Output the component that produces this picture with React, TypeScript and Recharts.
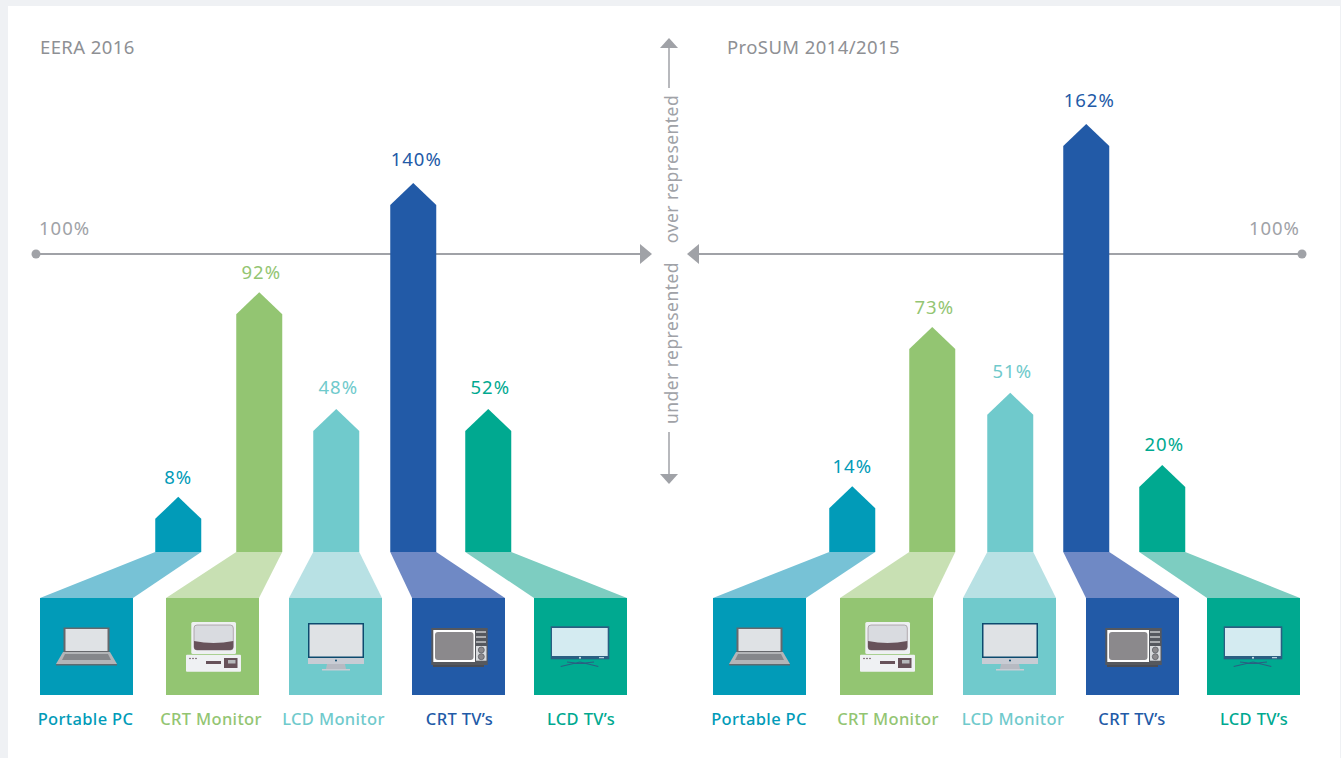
import React from 'react'
import { BarChart, Bar, XAxis, YAxis, ReferenceLine } from 'recharts'

const categories = ['Portable PC', 'CRT Monitor', 'LCD Monitor', 'CRT TV’s', 'LCD TV’s']
const eeraLabels = ['8%', '92%', '48%', '140%', '52%']
const prosumLabels = ['14%', '73%', '51%', '162%', '20%']
// arrows in the source are not to scale with their labels, so heights are read
// off the picture separately (in units where the grey line sits at 100)
const eeraHeights = [18.5, 87.2, 48, 123.8, 48]
const prosumHeights = [22.1, 75.5, 53.4, 143.6, 29.2]

const COLORS = ['#019bb8', '#93c572', '#70cacc', '#225aa7', '#00a990']
const FUNNEL = ['#77c2d6', '#c8e0b3', '#b8e1e4', '#6f89c5', '#7dcdc1']
const GREY = '#a0a2a7'
const FONT = '"Noto Sans", sans-serif'

const W = 1341
const H = 758
const BASE_Y = 552
const TILE_Y = 598
const TILE_W = 93
const TILE_H = 97
const PX_PER_UNIT = 2.98
const Y_MAX = 180
const LABEL_DX = [0, 2, 2, 3, 2]

const eeraLayout = {
  nudge: [0, 3.5, 3, 2.5, 0],
  tileX: [40, 166, 289, 412, 534],
  labelX: [85.5, 211, 333.5, 459.5, 581],
  labelGap: [13, 13, 15, 17, 15],
}
const prosumLayout = {
  nudge: [0, 2.5, 3, 1.5, 0],
  tileX: [713, 840, 963, 1086, 1207],
  labelX: [759, 888, 1013, 1132, 1254],
  labelGap: [13, 13, 15, 17, 14],
}

function Laptop() {
  return (
    <g>
      <rect x={23.5} y={29.5} width={46} height={25} fill="#66686c" />
      <rect x={25.5} y={31} width={42} height={22} fill="#dfe2e5" />
      <polygon points="23,54 70,54 77,66 16,66" fill="#b3b5b8" />
      <polygon points="25,56 68,56 71,62 22,62" fill="#85878b" />
      <rect x={16} y={66} width={61} height={1.5} fill="#5f6a70" />
    </g>
  )
}

function CrtMonitor() {
  return (
    <g>
      <rect x={25.3} y={24} width={44.7} height={32} rx={1.5} fill="#eef0f2" />
      <rect x={28} y={27} width={39.3} height={25} rx={3} fill="#d9dbe0" stroke="#8d8187" strokeWidth={0.6} />
      <path d="M28 43 Q47.5 47 67.3 43 L67.3 49 Q67.3 52 64 52 L31 52 Q28 52 28 49 Z" fill="#67525a" />
      <rect x={20} y={56.7} width={55} height={17} rx={1} fill="#eff1f3" />
      <circle cx={24} cy={60.5} r={0.8} fill="#67525a" />
      <circle cx={27} cy={60.5} r={0.8} fill="#67525a" />
      <circle cx={30} cy={60.5} r={0.8} fill="#67525a" />
      <rect x={40} y={63} width={15} height={3} fill="#67525a" />
      <rect x={58} y={60} width={13.5} height={10} fill="#67525a" />
      <rect x={62} y={62} width={7.5} height={3.5} fill="#b6b8bb" />
    </g>
  )
}

function LcdMonitor() {
  return (
    <g>
      <rect x={19} y={25} width={56} height={35} fill="#0c4a6e" />
      <rect x={20.5} y={26.5} width={53} height={32} fill="#dfe2e5" />
      <rect x={19} y={60} width={56} height={6} fill="#c8ccd4" />
      <circle cx={47} cy={62.5} r={1} fill="#0c4a6e" />
      <polygon points="38,66 56,66 57,71 37,71" fill="#b7bac2" />
      <rect x={33} y={71} width={28} height={1.5} fill="#c8ccd4" />
    </g>
  )
}

function CrtTv() {
  return (
    <g>
      <rect x={19.3} y={30} width={56.4} height={37} fill="#55585e" />
      <rect x={21.3} y={32} width={41.7} height={32} fill="#ffffff" />
      <rect x={23} y={34} width={38.5} height={28} rx={3} fill="#8b898c" />
      <rect x={64} y={33.5} width={10} height={1} fill="#fff" />
      <rect x={64} y={38.5} width={10} height={1} fill="#fff" />
      <rect x={64} y={43.5} width={10} height={1} fill="#fff" />
      <rect x={64} y={48} width={10.5} height={14.7} fill="#d8dadd" />
      <circle cx={69.3} cy={52} r={3} fill="#8b898c" stroke="#55585e" strokeWidth={0.7} />
      <circle cx={69.3} cy={58.7} r={3} fill="#8b898c" stroke="#55585e" strokeWidth={0.7} />
      <rect x={21} y={67} width={51} height={2} fill="#4a4d55" />
    </g>
  )
}

function LcdTv() {
  return (
    <g>
      <rect x={16.7} y={28.3} width={58.6} height={33} fill="#2a5f82" />
      <rect x={18} y={30} width={55.7} height={28} fill="#d4ebf1" />
      <circle cx={46} cy={59.7} r={1} fill="#d4ebf1" />
      <rect x={65} y={59.2} width={5} height={1} fill="#d4ebf1" />
      <path d="M26.7 68.5 L46 64 L64.3 68.5 M33 64 L46 65.5 L60 64" stroke="#2a5f82" strokeWidth={1.2} fill="none" />
    </g>
  )
}

const ICONS = [Laptop, CrtMonitor, LcdMonitor, CrtTv, LcdTv]

function makeArrowShape(layout: typeof eeraLayout) {
  return function ArrowShape(props: any) {
    const { x, y, width, index, payload } = props
    const left = x + layout.nudge[index]
    const right = left + width
    const mid = left + width / 2
    const tx = layout.tileX[index]
    const Icon = ICONS[index]
    return (
      <g>
        <polygon
          points={`${left},${BASE_Y} ${right},${BASE_Y} ${tx + TILE_W},${TILE_Y} ${tx},${TILE_Y}`}
          fill={FUNNEL[index]}
        />
        <polygon
          points={`${left},${BASE_Y} ${left},${y + 22} ${mid},${y} ${right},${y + 22} ${right},${BASE_Y}`}
          fill={COLORS[index]}
        />
        <text
          x={mid + LABEL_DX[index]}
          y={y - layout.labelGap[index]}
          textAnchor="middle"
          fontFamily={FONT}
          fontSize={18.5}
          letterSpacing={1}
          fill={COLORS[index]}
        >
          {payload.label}
        </text>
        <rect x={tx} y={TILE_Y} width={TILE_W} height={TILE_H} fill={COLORS[index]} />
        <g transform={`translate(${tx},${TILE_Y})`}>
          <Icon />
        </g>
      </g>
    )
  }
}

function makeTick(layout: typeof eeraLayout) {
  return function CategoryTick(props: any) {
    const { index, payload } = props
    return (
      <text
        x={layout.labelX[index]}
        y={725}
        textAnchor="middle"
        fontFamily={FONT}
        fontWeight={500}
        fontSize={16.5}
        letterSpacing={0.35}
        fill={COLORS[index]}
      >
        {payload.value}
      </text>
    )
  }
}

function hundredLine(side: 'left' | 'right') {
  return function HundredLine(props: any) {
    const { x1, x2, y1 } = props
    const y = y1
    const lo = Math.min(x1, x2)
    const hi = Math.max(x1, x2)
    return (
      <g>
        <line x1={lo} x2={hi} y1={y} y2={y} stroke={GREY} strokeWidth={2} />
        {side === 'left' ? (
          <>
            <circle cx={lo} cy={y} r={4.5} fill={GREY} />
            <polygon points={`${hi},${y - 10} ${hi + 12},${y} ${hi},${y + 10}`} fill={GREY} />
          </>
        ) : (
          <>
            <circle cx={hi} cy={y} r={4.5} fill={GREY} />
            <polygon points={`${lo},${y - 10} ${lo - 12},${y} ${lo},${y + 10}`} fill={GREY} />
          </>
        )}
      </g>
    )
  }
}

function Panel({ labels, heights, layout, side, margin, padding }: any) {
  const data = categories.map((name, i) => ({ name, label: labels[i], height: heights[i] }))
  return (
    <div style={{ position: 'absolute', left: 0, top: 0 }}>
      <BarChart width={W} height={H} data={data} margin={margin} barSize={46}>
        <XAxis
          dataKey="name"
          height={H - BASE_Y}
          axisLine={false}
          tickLine={false}
          padding={padding}
          interval={0}
          tick={makeTick(layout)}
        />
        <YAxis hide domain={[0, Y_MAX]} />
        <ReferenceLine y={100} shape={hundredLine(side)} zIndex={100} />
        <Bar dataKey="height" isAnimationActive={false} shape={makeArrowShape(layout)} />
      </BarChart>
    </div>
  )
}

const topMargin = BASE_Y - PX_PER_UNIT * Y_MAX

export default function App() {
  const titleStyle = { fontFamily: FONT, fontSize: 18.5, letterSpacing: 0.4, fill: '#8e9094' }
  const pctStyle = { fontFamily: FONT, fontSize: 18.5, letterSpacing: 1, fill: GREY }
  const sideStyle = { fontFamily: FONT, fontSize: 17.5, letterSpacing: 0.45, fill: GREY }
  return (
    <div style={{ position: 'absolute', left: 0, top: 0, width: W, height: H, background: '#eff1f4', overflow: 'hidden' }}>
      <div style={{ position: 'absolute', left: 8, top: 6, width: 1332, height: H - 6, background: '#fff' }} />
      <Panel
        labels={eeraLabels}
        heights={eeraHeights}
        layout={eeraLayout}
        side="left"
        margin={{ top: topMargin, right: W - 640, bottom: 0, left: 36 }}
        padding={{ left: 103.25, right: 113.25 }}
      />
      <Panel
        labels={prosumLabels}
        heights={prosumHeights}
        layout={prosumLayout}
        side="right"
        margin={{ top: topMargin, right: W - 1302, bottom: 0, left: 699 }}
        padding={{ left: 114.25, right: 101.25 }}
      />
      <svg width={W} height={H} style={{ position: 'absolute', left: 0, top: 0, pointerEvents: 'none' }}>
        <text x={40} y={54} style={titleStyle}>EERA 2016</text>
        <text x={727} y={54} style={titleStyle}>ProSUM 2014/2015</text>
        <text x={39} y={235} style={pctStyle}>100%</text>
        <text x={1300} y={235} textAnchor="end" style={pctStyle}>100%</text>
        <line x1={669} x2={669} y1={46} y2={88} stroke={GREY} strokeWidth={1.5} />
        <polygon points="669,38 660,48 678,48" fill={GREY} />
        <line x1={669} x2={669} y1={432} y2={475} stroke={GREY} strokeWidth={1.5} />
        <polygon points="669,484 660,474 678,474" fill={GREY} />
        <text transform="translate(678,169) rotate(-90)" textAnchor="middle" style={sideStyle}>over represented</text>
        <text transform="translate(678,343) rotate(-90)" textAnchor="middle" style={sideStyle}>under represented</text>
      </svg>
    </div>
  )
}
